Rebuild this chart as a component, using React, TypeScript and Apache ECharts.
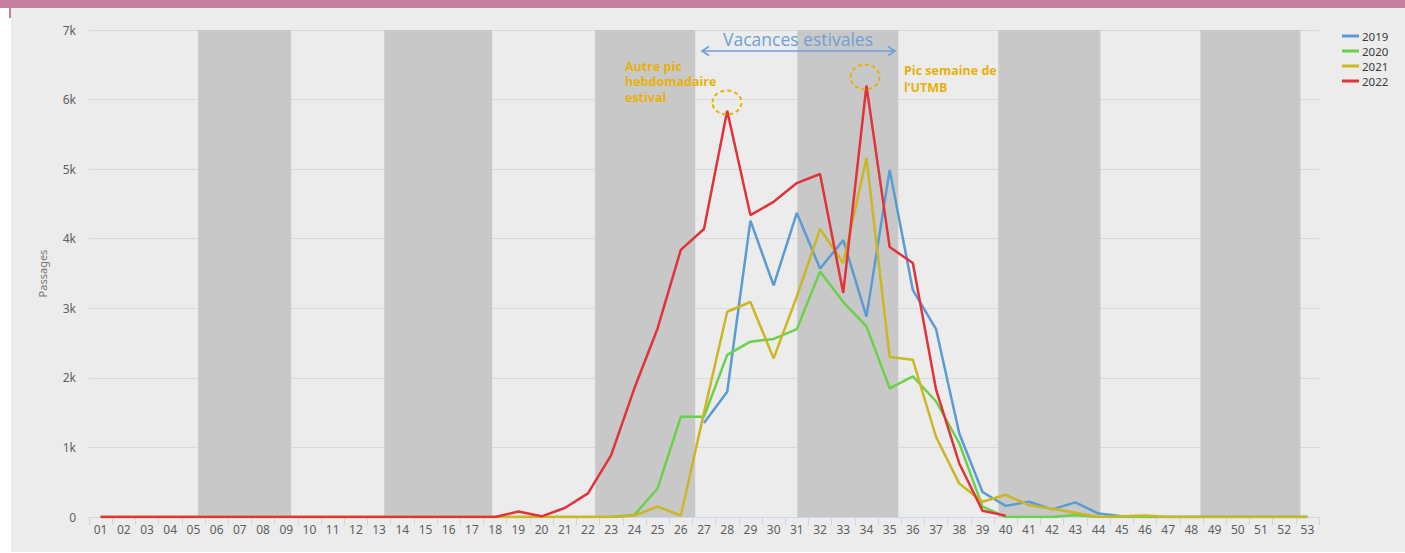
import React, { useEffect, useRef } from "react";
import * as echarts from "echarts";

const weeks: string[] = [
  "01","02","03","04","05","06","07","08","09","10","11","12","13","14","15","16","17","18",
  "19","20","21","22","23","24","25","26","27","28","29","30","31","32","33","34","35","36",
  "37","38","39","40","41","42","43","44","45","46","47","48","49","50","51","52","53",
];

const yearNames: string[] = ["2019", "2020", "2021", "2022"];
const yearColors: string[] = ["#5b9bd5", "#6bd04b", "#cbb623", "#e2323a"];

const s2019: (number | null)[] = [
  null,null,null,null,null,null,null,null,null,null,null,null,null,
  null,null,null,null,null,null,null,null,null,null,null,null,null,
  1350, 1800, 4260, 3330, 4370, 3570, 3980, 2880, 4990, 3260, 2700, 1200, 360,
  160, 220, 110, 210, 50, 10, 0, 0, 0, 0, 0, 0, 0, 0,
];

const s2020: (number | null)[] = [
  0,0,0,0,0,0,0,0,0,0,0,0,0,0,0,0,0,0,0,0,0,0,0,
  30, 410, 1440, 1440, 2330, 2520, 2560, 2700, 3530, 3090, 2740, 1850, 2020,
  1660, 1060, 150, 0, 0, 0, 30, 0, 0, 0, 0, 0, 0, 0, 0, 0, 0,
];

const s2021: (number | null)[] = [
  0,0,0,0,0,0,0,0,0,0,0,0,0,0,0,0,0,0,0,0,0,0,0,
  20, 150, 20, 1500, 2950, 3090, 2280, 3170, 4140, 3650, 5160, 2300, 2260,
  1150, 480, 220, 320, 170, 120, 60, 0, 10, 20, 0, 0, 0, 0, 0, 0, 0,
];

const s2022: (number | null)[] = [
  0,0,0,0,0,0,0,0,0,0,0,0,0,0,0,0,0,0,
  80, 10, 130, 340, 890, 1850, 2710, 3840, 4140, 5840, 4340, 4530, 4800, 4930,
  3220, 6200, 3880, 3650, 1830, 770, 90, 20,
  null,null,null,null,null,null,null,null,null,null,null,null,null,
];

// Shaded month bands (in week units along the axis: Feb, Apr, Jun, Aug, Oct, Dec)
const bandStart: number[] = [4.7, 12.72, 21.81, 30.52, 39.18, 47.89];
const bandEnd: number[] = [8.71, 17.37, 26.12, 34.87, 43.58, 52.2];

const yTicks: number[] = [0, 1000, 2000, 3000, 4000, 5000, 6000, 7000];

const seriesData = [s2019, s2020, s2021, s2022];

export default function App() {
  const ref = useRef<HTMLDivElement>(null);

  useEffect(() => {
    if (!ref.current) return;
    const chart = echarts.init(ref.current, undefined, { renderer: "svg" });
    const font = "Noto Sans";
    const orange = "#e8b10a";
    const blueNote = "#6f9fd8";
    const Z = 100;

    const option: any = {
      animation: false,
      backgroundColor: "transparent",
      textStyle: { fontFamily: font },
      grid: { left: 89, right: 86, top: 30, bottom: 36, containLabel: false },
      legend: {
        orient: "vertical",
        left: 1337,
        top: 25,
        icon: "rect",
        itemWidth: 17,
        itemHeight: 3,
        itemGap: 3,
        data: yearNames,
        textStyle: {
          fontSize: 11.5,
          lineHeight: 12,
          color: "#3a3a3a",
          fontFamily: font,
          padding: [0, 0, 0, -2],
        },
      },
      xAxis: [
        {
          type: "category",
          data: weeks,
          boundaryGap: true,
          axisLine: { lineStyle: { color: "#ccd6eb", width: 1 } },
          axisTick: { show: true, interval: 0, length: 8, lineStyle: { color: "#ccd6eb" } },
          axisLabel: { interval: 0, color: "#606060", fontSize: 12, margin: 6, fontFamily: font },
          splitLine: { show: false },
        },
        { type: "value", min: 0, max: 53, show: false },
      ],
      yAxis: {
        type: "value",
        min: yTicks[0],
        max: yTicks[yTicks.length - 1],
        interval: 1000,
        name: "Passages",
        nameLocation: "middle",
        nameRotate: 90,
        nameGap: 41,
        nameTextStyle: { color: "#777", fontSize: 11, fontFamily: font },
        axisLine: { show: false },
        axisTick: { show: false },
        axisLabel: {
          color: "#606060",
          fontSize: 12,
          margin: 13,
          fontFamily: font,
          formatter: (v: number) => (v === 0 ? "0" : v / 1000 + "k"),
        },
        splitLine: { lineStyle: { color: "#d9d9d9", width: 1 } },
      },
      series: [
        {
          type: "line",
          name: "bands",
          xAxisIndex: 1,
          data: [[0, 0]],
          symbol: "none",
          lineStyle: { opacity: 0 },
          silent: true,
          z: 1,
          markArea: {
            silent: true,
            itemStyle: { color: "#c8c8c8" },
            data: bandStart.map((s, i) => [{ xAxis: s }, { xAxis: bandEnd[i] }]),
          },
        },
        ...yearNames.map((n, i) => ({
          type: "line",
          name: n,
          data: seriesData[i],
          symbol: "none",
          showSymbol: false,
          connectNulls: false,
          z: 3 + i,
          color: yearColors[i],
          lineStyle: { color: yearColors[i], width: 2.5 },
        })),
      ],
      graphic: [
        {
          type: "text",
          x: 798,
          y: 39,
          z: Z,
          style: {
            text: "Vacances estivales",
            fill: blueNote,
            font: `17.5px "Open Sans"`,
            textAlign: "center",
            textVerticalAlign: "middle",
          },
        },
        {
          type: "line",
          z: Z,
          shape: { x1: 703, y1: 51, x2: 894, y2: 51 },
          style: { stroke: blueNote, lineWidth: 1.6 },
        },
        {
          type: "polyline",
          z: Z,
          shape: { points: [[709, 46.5], [702, 51], [709, 55.5]] },
          style: { stroke: blueNote, lineWidth: 1.6, fill: "none" },
        },
        {
          type: "polyline",
          z: Z,
          shape: { points: [[888, 46.5], [895, 51], [888, 55.5]] },
          style: { stroke: blueNote, lineWidth: 1.6, fill: "none" },
        },
        ...["Autre pic", "hebdomadaire", "estival"].map((t, i) => ({
          type: "text",
          x: 625,
          y: 66 + i * 15.5,
          z: Z,
          style: {
            text: t,
            fill: orange,
            font: `bold 12.5px "Open Sans"`,
            textAlign: "left",
            textVerticalAlign: "middle",
          },
        })),
        ...["Pic semaine de", "l\u2019UTMB"].map((t, i) => ({
          type: "text",
          x: 904,
          y: 70 + i * 17,
          z: Z,
          style: {
            text: t,
            fill: orange,
            font: `bold 12.5px "Open Sans"`,
            textAlign: "left",
            textVerticalAlign: "middle",
          },
        })),
        {
          type: "ellipse",
          z: Z,
          shape: { cx: 727, cy: 102.5, rx: 14.5, ry: 12 },
          style: { stroke: orange, lineWidth: 2, fill: "none", lineDash: [4, 3] },
        },
        {
          type: "ellipse",
          z: Z,
          shape: { cx: 865, cy: 77, rx: 14.5, ry: 12.5 },
          style: { stroke: orange, lineWidth: 2, fill: "none", lineDash: [4, 3] },
        },
      ],
    };

    chart.setOption(option);
    return () => chart.dispose();
  }, []);

  return (
    <div style={{ position: "fixed", left: 0, top: 0, width: 1405, height: 553, background: "#ffffff", overflow: "hidden" }}>
      <div style={{ position: "absolute", left: 0, top: 0, width: 1405, height: 8, background: "#c4829f" }} />
      <div style={{ position: "absolute", left: 9, top: 8, width: 2, height: 10, background: "#c4829f" }} />
      <div style={{ position: "absolute", left: 11, top: 8, width: 1394, height: 544, background: "#ececec" }} />
      <div ref={ref} style={{ position: "absolute", left: 0, top: 0, width: 1405, height: 553 }} />
    </div>
  );
}
